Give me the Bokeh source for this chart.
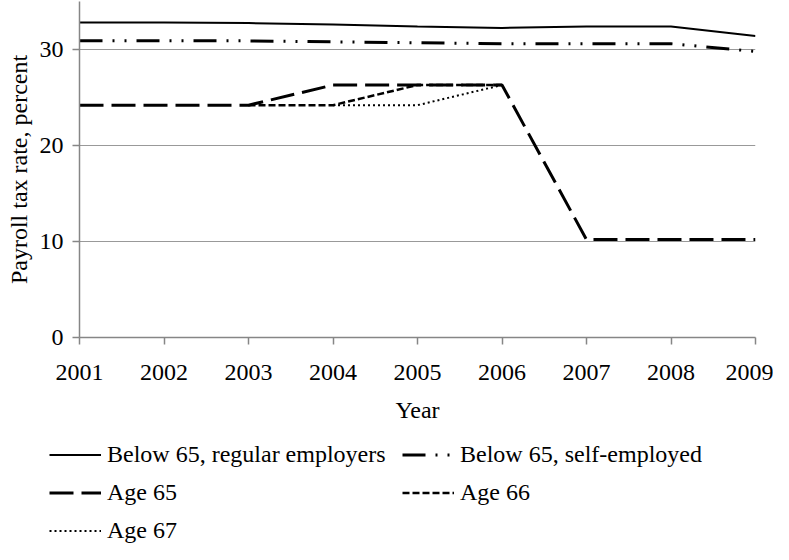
import numpy as np
from bokeh.plotting import figure
from bokeh.models import Range1d, FixedTicker, Legend, LegendItem
from bokeh.embed import file_html
from bokeh.resources import INLINE

years = [2001, 2002, 2003, 2004, 2005, 2006, 2007, 2008, 2009]
below65_regular = [32.8, 32.8, 32.75, 32.6, 32.4, 32.25, 32.4, 32.4, 31.4]
below65_self = [30.9, 30.9, 30.9, 30.8, 30.7, 30.6, 30.6, 30.6, 29.8]
age65 = [24.2, 24.2, 24.2, 26.3, 26.3, 26.3, 10.2, 10.2, 10.2]
age66 = [np.nan, np.nan, 24.2, 24.2, 26.3, 26.3, np.nan, np.nan, np.nan]
age67 = [np.nan, np.nan, np.nan, 24.2, 24.2, 26.3, np.nan, np.nan, np.nan]
y_ticks = [0, 10, 20, 30]

series = [
    ("Below 65, regular employers", below65_regular, 2, None),
    ("Below 65, self-employed", below65_self, 3, "23 10 2 10 2 10"),
    ("Age 65", age65, 3, "24 8"),
    ("Age 66", age66, 2.5, "7 3"),
    ("Age 67", age67, 2, "2 3"),
]

FONT = "Liberation Serif"
FS = "24px"

p = figure(width=773, height=433, output_backend="svg", toolbar_location=None,
           x_range=Range1d(2001, 2009), y_range=Range1d(0, 35),
           min_border_left=79, min_border_right=18, min_border_top=1,
           min_border_bottom=96)
p.outline_line_color = None

for label, vals, lw, dash in series:
    kw = dict(line_color="black", line_width=lw)
    if dash:
        kw["line_dash"] = dash
    p.line(years, vals, **kw)

for ax in (p.xaxis[0], p.yaxis[0]):
    ax.axis_line_color = "#868686"
    ax.axis_line_width = 1.5
    ax.major_tick_line_color = "#868686"
    ax.major_tick_line_width = 1.5
    ax.major_tick_out = 7
    ax.major_tick_in = 0
    ax.minor_tick_line_color = None
    ax.major_label_text_font = FONT
    ax.major_label_text_font_size = FS
    ax.major_label_text_color = "black"
    ax.axis_label_text_font = FONT
    ax.axis_label_text_font_size = FS
    ax.axis_label_text_font_style = "normal"
    ax.axis_label_text_color = "black"

p.xaxis.ticker = FixedTicker(ticks=years)
p.yaxis.ticker = FixedTicker(ticks=y_ticks)
p.xaxis.axis_label = "Year"
p.yaxis.axis_label = "Payroll tax rate, percent"
p.xaxis.major_label_standoff = 20
p.xaxis.axis_label_standoff = 14
p.yaxis.major_label_standoff = 9
p.yaxis.axis_label_standoff = 5

p.xgrid.grid_line_color = None
p.ygrid.grid_line_color = "#999999"
p.ygrid.grid_line_width = 1

# Legend panel: same series, ranges chosen so that only the legend shows
p2 = figure(width=773, height=111, output_backend="svg", toolbar_location=None,
            x_range=Range1d(0, 1), y_range=Range1d(0, 1),
            x_axis_type=None, y_axis_type=None,
            min_border_left=0, min_border_right=0, min_border_top=0,
            min_border_bottom=0)
p2.outline_line_color = None
p2.xgrid.grid_line_color = None
p2.ygrid.grid_line_color = None

items = []
for label, vals, lw, dash in series:
    kw = dict(line_color="black", line_width=lw)
    if dash:
        kw["line_dash"] = dash
    r = p2.line(years, vals, **kw)
    items.append(LegendItem(label=label, renderers=[r]))

legend = Legend(items=items, location=(49, 0), orientation="horizontal", ncols=2)
legend.border_line_color = None
legend.background_fill_alpha = 0
legend.padding = 0
legend.margin = 0
legend.glyph_width = 52
legend.glyph_height = 27
legend.label_height = 27
legend.label_width = 284
legend.label_standoff = 6
legend.spacing = 11
legend.label_text_font = FONT
legend.label_text_font_size = FS
legend.label_text_color = "black"
p2.add_layout(legend)

open("out.html", "w").write(file_html([p, p2], INLINE))
